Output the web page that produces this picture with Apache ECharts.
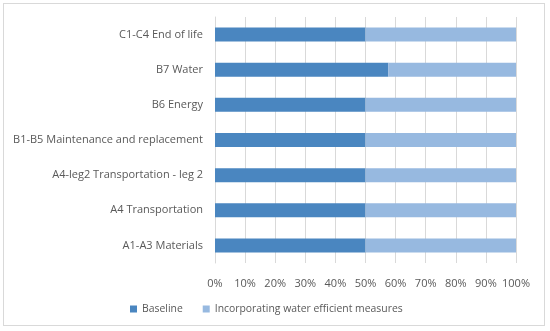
<!DOCTYPE html>
<html><head><meta charset="utf-8">
<script src="https://cdn.jsdelivr.net/npm/echarts@6/dist/echarts.min.js"></script>
<style>html,body{margin:0;padding:0;background:#fff}#c{width:550px;height:331px}
#frame{position:absolute;left:3px;top:3px;width:542px;height:323px;border:1px solid #d9d9d9;box-sizing:border-box;pointer-events:none}</style>
</head><body><div id="c"></div><div id="frame"></div>
<script>
const categories = ["A1-A3 Materials","A4 Transportation","A4-leg2 Transportation - leg 2","B1-B5 Maintenance and replacement","B6 Energy","B7 Water","C1-C4 End of life"];
const baseline = [50, 50, 50, 50, 50, 57.6, 50];
const efficient = [50, 50, 50, 50, 50, 42.4, 50];
const tickLabels = ["0%","10%","20%","30%","40%","50%","60%","70%","80%","90%","100%"];
const font = "'Open Sans', 'Liberation Sans', sans-serif";
const chart = echarts.init(document.getElementById('c'));
chart.setOption({
  animation:false,
  textStyle:{fontFamily:font},
  grid:{left:215, right:34, top:17, bottom:68, containLabel:false},
  xAxis:{type:'value', min:0, max:100, interval:10,
    axisLabel:{formatter:(v)=>tickLabels[Math.round(v/10)], color:'#595959', fontSize:11, margin:15, fontFamily:font},
    splitLine:{lineStyle:{color:'#d9d9d9'}}, axisLine:{show:false}, axisTick:{show:false}},
  yAxis:{type:'category', data:categories,
    axisLabel:{color:'#595959', fontSize:11, margin:12, fontFamily:font},
    axisLine:{lineStyle:{color:'#d9d9d9'}}, axisTick:{show:false}},
  legend:{bottom:12, left:125, itemWidth:7, itemHeight:7, itemGap:20, icon:'rect',
    textStyle:{color:'#595959', fontSize:10.4, fontFamily:font}},
  series:[
    {name:'Baseline', type:'bar', stack:'s', data:baseline, barWidth:14, itemStyle:{color:'#4a86c0'}},
    {name:'Incorporating water efficient measures', type:'bar', stack:'s', data:efficient, barWidth:14, itemStyle:{color:'#97b9e0'}}
  ]
});
</script></body></html>
